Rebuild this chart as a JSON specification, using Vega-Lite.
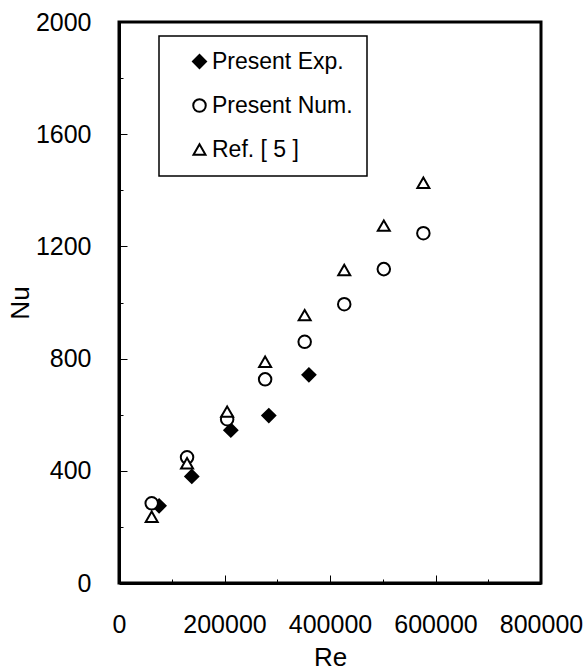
{
  "$schema": "https://vega.github.io/schema/vega-lite/v6.json",
  "width": 422,
  "height": 561,
  "autosize": "none",
  "padding": {"left": 119, "top": 22, "right": 46, "bottom": 87},
  "background": "white",
  "config": {
    "font": "Liberation Sans",
    "view": {"stroke": "black", "strokeWidth": 3},
    "axis": {
      "grid": false,
      "domainColor": "black",
      "domainWidth": 3,
      "tickColor": "black",
      "tickWidth": 1,
      "labelColor": "black",
      "titleColor": "black",
      "labelFont": "Liberation Sans",
      "titleFont": "Liberation Sans",
      "labelFontSize": 25,
      "titleFontSize": 26,
      "titleFontWeight": "normal"
    },
    "legend": {
      "orient": "none",
      "legendX": 40,
      "legendY": 14,
      "strokeColor": "black",
      "strokeWidth": 1.5,
      "fillColor": "white",
      "padding": 14,
      "symbolOffset": 15,
      "labelOffset": 1,
      "rowPadding": 20,
      "labelFont": "Liberation Sans",
      "labelFontSize": 23,
      "labelColor": "black",
      "symbolStrokeWidth": 2
    }
  },
  "data": {
    "values": [
      {"Series": "Present Exp.", "Re": 76000, "Nu": 275},
      {"Series": "Present Exp.", "Re": 138000, "Nu": 380},
      {"Series": "Present Exp.", "Re": 212000, "Nu": 545},
      {"Series": "Present Exp.", "Re": 284000, "Nu": 597},
      {"Series": "Present Exp.", "Re": 360000, "Nu": 742},
      {"Series": "Present Num.", "Re": 62000, "Nu": 284},
      {"Series": "Present Num.", "Re": 129000, "Nu": 448},
      {"Series": "Present Num.", "Re": 205000, "Nu": 584},
      {"Series": "Present Num.", "Re": 277000, "Nu": 726},
      {"Series": "Present Num.", "Re": 352000, "Nu": 860},
      {"Series": "Present Num.", "Re": 427000, "Nu": 994},
      {"Series": "Present Num.", "Re": 502000, "Nu": 1119},
      {"Series": "Present Num.", "Re": 577000, "Nu": 1247},
      {"Series": "Ref. [ 5 ]", "Re": 62000, "Nu": 236},
      {"Series": "Ref. [ 5 ]", "Re": 129000, "Nu": 427},
      {"Series": "Ref. [ 5 ]", "Re": 205000, "Nu": 611},
      {"Series": "Ref. [ 5 ]", "Re": 277000, "Nu": 789},
      {"Series": "Ref. [ 5 ]", "Re": 352000, "Nu": 955},
      {"Series": "Ref. [ 5 ]", "Re": 427000, "Nu": 1116},
      {"Series": "Ref. [ 5 ]", "Re": 502000, "Nu": 1274},
      {"Series": "Ref. [ 5 ]", "Re": 577000, "Nu": 1427}
    ]
  },
  "layer": [
    {
      "mark": {"type": "point", "filled": true, "strokeWidth": 2, "opacity": 1},
      "encoding": {
        "x": {
          "field": "Re", "type": "quantitative",
          "scale": {"domain": [0, 800000], "nice": false, "zero": true},
          "axis": {
            "orient": "bottom",
            "values": [0, 200000, 400000, 600000, 800000],
            "format": "d",
            "tickSize": -8,
            "labelPadding": 37,
            "labelFlush": false,
            "labelOverlap": false,
            "title": "Re",
            "titlePadding": 7
          }
        },
        "y": {
          "field": "Nu", "type": "quantitative",
          "scale": {"domain": [0, 2000], "nice": false},
          "axis": {
            "orient": "left",
            "values": [0, 400, 800, 1200, 1600, 2000],
            "format": "d",
            "tickSize": -8,
            "labelPadding": 36,
            "labelFlush": false,
            "labelOverlap": false,
            "title": "Nu",
            "titlePadding": 2
          }
        },
        "shape": {
          "field": "Series", "type": "nominal",
          "scale": {"domain": ["Present Exp.", "Present Num.", "Ref. [ 5 ]"], "range": ["diamond", "circle", "triangle-up"]},
          "legend": {"title": null}
        },
        "fill": {
          "field": "Series", "type": "nominal",
          "scale": {"domain": ["Present Exp.", "Present Num.", "Ref. [ 5 ]"], "range": ["black", "white", "white"]},
          "legend": {"title": null}
        },
        "stroke": {
          "field": "Series", "type": "nominal",
          "scale": {"domain": ["Present Exp.", "Present Num.", "Ref. [ 5 ]"], "range": ["black", "black", "black"]},
          "legend": {"title": null}
        },
        "size": {
          "field": "Series", "type": "nominal",
          "scale": {"domain": ["Present Exp.", "Present Num.", "Ref. [ 5 ]"], "range": [169, 144, 196]},
          "legend": {"title": null}
        }
      }
    },
    {
      "mark": {"type": "point", "opacity": 0},
      "encoding": {
        "x": {
          "field": "Re", "type": "quantitative",
          "axis": {"orient": "bottom", "values": [100000, 300000, 500000, 700000], "tickSize": -4, "labels": false, "domain": false, "title": null}
        },
        "y": {
          "field": "Nu", "type": "quantitative",
          "axis": {"orient": "left", "values": [200, 600, 1000, 1400, 1800], "tickSize": -4, "labels": false, "domain": false, "title": null}
        }
      }
    }
  ],
  "resolve": {"axis": {"x": "independent", "y": "independent"}}
}
